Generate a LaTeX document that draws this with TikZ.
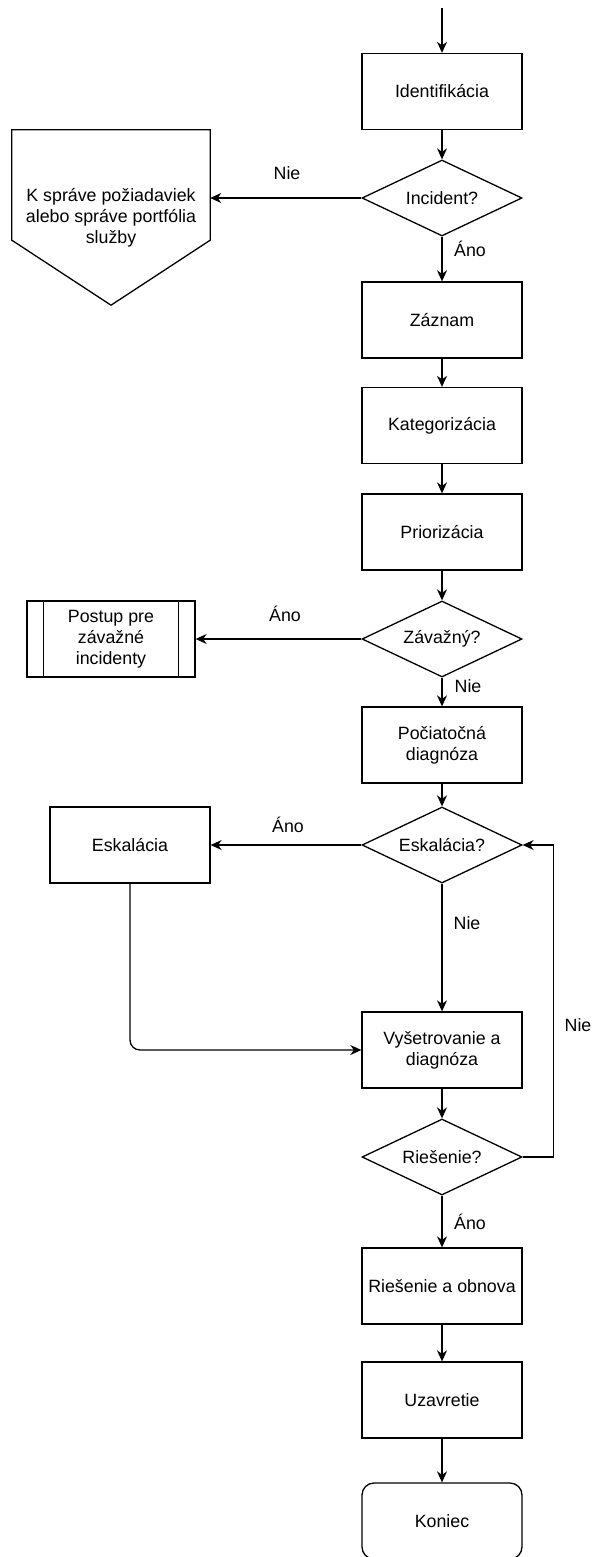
\documentclass[tikz,border=0pt]{standalone}
\usepackage{fontspec}
\setmainfont{Liberation Sans}
\usetikzlibrary{arrows.meta,positioning,shapes.geometric}

\tikzset{
  proc/.style={draw, rectangle, line width=1.3pt, minimum width=160pt, minimum height=76pt, inner sep=2pt, align=center},
  decide/.style={draw, diamond, aspect=2.1, line width=1.3pt, minimum width=160pt, minimum height=76pt, inner sep=0pt, align=center},
  term/.style={proc, rounded corners=12pt},
  flow/.style={line width=1.3pt, -{Stealth[length=11pt,width=10pt,inset=3.5pt]}},
  lbl/.style={inner sep=0pt}
}

\begin{document}
\begin{tikzpicture}[x=1pt, y=-1pt, font=\fontsize{17.8}{21}\selectfont]
  \useasboundingbox (0,0) rectangle (602,1557);

  % main column
  \coordinate (start) at (442,8);
  \node[proc] (ident) at (442,91.5) {Identifikácia};
  \node[decide] (incident) at (442,198) {Incident?};
  \node[proc] (zaznam) at (442,320) {Záznam};
  \node[proc] (kateg) at (442,425.5) {Kategorizácia};
  \node[proc] (prior) at (442,532) {Priorizácia};
  \node[decide] (zavazny) at (442,639) {Závažný?};
  \node[proc] (pociat) at (442,745) {Počiatočná\\diagnóza};
  \node[decide] (eskalQ) at (442,845) {Eskalácia?};
  \node[proc] (vysetr) at (442,1050) {Vyšetrovanie a\\diagnóza};
  \node[decide] (riesQ) at (442,1157) {Riešenie?};
  \node[proc] (obnova) at (442,1286) {Riešenie a obnova};
  \node[proc] (uzavr) at (442,1400) {Uzavretie};
  \node[term] (koniec) at (442,1521) {Koniec};

  % side shapes
  \node[minimum width=198pt, minimum height=175pt, inner sep=0pt, align=center] (offpage) at (111,217.5)
    {K správe požiadaviek\\alebo správe portfólia\\služby};
  \draw[line width=1.3pt] (offpage.north west) -- (offpage.north east) -- ([yshift=65pt]offpage.south east)
    -- (offpage.south) -- ([yshift=65pt]offpage.south west) -- cycle;
  \node[proc, minimum width=168pt] (postup) at (111,639) {Postup pre\\závažné\\incidenty};
  \draw[line width=1.3pt] ([xshift=17pt]postup.north west) -- ([xshift=17pt]postup.south west);
  \draw[line width=1.3pt] ([xshift=-17pt]postup.north east) -- ([xshift=-17pt]postup.south east);
  \node[proc] (eskal) at (130,845) {Eskalácia};

  % connectors
  \draw[flow] (start) -- (ident);
  \draw[flow] (ident) -- (incident);
  \draw[flow] (incident.west) -- (offpage.east |- incident.west);
  \draw[flow] (incident) -- (zaznam);
  \draw[flow] (zaznam) -- (kateg);
  \draw[flow] (kateg) -- (prior);
  \draw[flow] (prior) -- (zavazny);
  \draw[flow] (zavazny) -- (postup);
  \draw[flow] (zavazny) -- (pociat);
  \draw[flow] (pociat) -- (eskalQ);
  \draw[flow] (eskalQ) -- (eskal);
  \draw[flow] (eskalQ) -- (vysetr);
  \draw[flow, rounded corners=10pt] (eskal.south) |- (vysetr.west);
  \draw[flow] (vysetr) -- (riesQ);
  \draw[flow] (riesQ.east) -- ++(31,0) |- (eskalQ.east);
  \draw[flow] (riesQ) -- (obnova);
  \draw[flow] (obnova) -- (uzavr);
  \draw[flow] (uzavr) -- (koniec);

  % labels
  \node[lbl] (nie1) at (287,173) {Nie};
  \node[lbl] (ano1) at (470,249) {Áno};
  \node[lbl] (ano2) at (285,614) {Áno};
  \node[lbl] (nie2) at (468,686) {Nie};
  \node[lbl] (ano3) at (288,825) {Áno};
  \node[lbl] (nie3) at (467,923) {Nie};
  \node[lbl] (nie4) at (578,1025) {Nie};
  \node[lbl] (ano4) at (470,1222) {Áno};
\end{tikzpicture}
\end{document}
